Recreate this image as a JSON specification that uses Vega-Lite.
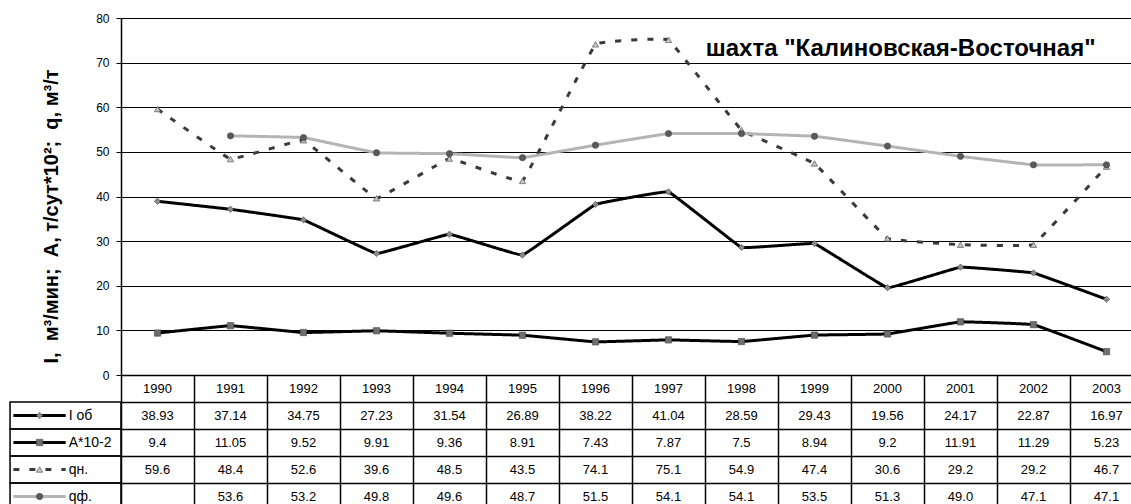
{
  "$schema": "https://vega.github.io/schema/vega-lite/v6.json",
  "padding": {"left": 9, "top": 12, "right": -12, "bottom": -6},
  "background": "white",
  "config": {"view": {"stroke": null}, "font": "Liberation Sans"},
  "spacing": 0,
  "bounds": "flush",
  "datasets": {
    "d": [
      {"year": 1990, "series": "I об", "value": 38.93, "txt": "38.93"},
      {"year": 1991, "series": "I об", "value": 37.14, "txt": "37.14"},
      {"year": 1992, "series": "I об", "value": 34.75, "txt": "34.75"},
      {"year": 1993, "series": "I об", "value": 27.23, "txt": "27.23"},
      {"year": 1994, "series": "I об", "value": 31.54, "txt": "31.54"},
      {"year": 1995, "series": "I об", "value": 26.89, "txt": "26.89"},
      {"year": 1996, "series": "I об", "value": 38.22, "txt": "38.22"},
      {"year": 1997, "series": "I об", "value": 41.04, "txt": "41.04"},
      {"year": 1998, "series": "I об", "value": 28.59, "txt": "28.59"},
      {"year": 1999, "series": "I об", "value": 29.43, "txt": "29.43"},
      {"year": 2000, "series": "I об", "value": 19.56, "txt": "19.56"},
      {"year": 2001, "series": "I об", "value": 24.17, "txt": "24.17"},
      {"year": 2002, "series": "I об", "value": 22.87, "txt": "22.87"},
      {"year": 2003, "series": "I об", "value": 16.97, "txt": "16.97"},
      {"year": 1990, "series": "А*10-2", "value": 9.4, "txt": "9.4"},
      {"year": 1991, "series": "А*10-2", "value": 11.05, "txt": "11.05"},
      {"year": 1992, "series": "А*10-2", "value": 9.52, "txt": "9.52"},
      {"year": 1993, "series": "А*10-2", "value": 9.91, "txt": "9.91"},
      {"year": 1994, "series": "А*10-2", "value": 9.36, "txt": "9.36"},
      {"year": 1995, "series": "А*10-2", "value": 8.91, "txt": "8.91"},
      {"year": 1996, "series": "А*10-2", "value": 7.43, "txt": "7.43"},
      {"year": 1997, "series": "А*10-2", "value": 7.87, "txt": "7.87"},
      {"year": 1998, "series": "А*10-2", "value": 7.5, "txt": "7.5"},
      {"year": 1999, "series": "А*10-2", "value": 8.94, "txt": "8.94"},
      {"year": 2000, "series": "А*10-2", "value": 9.2, "txt": "9.2"},
      {"year": 2001, "series": "А*10-2", "value": 11.91, "txt": "11.91"},
      {"year": 2002, "series": "А*10-2", "value": 11.29, "txt": "11.29"},
      {"year": 2003, "series": "А*10-2", "value": 5.23, "txt": "5.23"},
      {"year": 1990, "series": "qн.", "value": 59.6, "txt": "59.6"},
      {"year": 1991, "series": "qн.", "value": 48.4, "txt": "48.4"},
      {"year": 1992, "series": "qн.", "value": 52.6, "txt": "52.6"},
      {"year": 1993, "series": "qн.", "value": 39.6, "txt": "39.6"},
      {"year": 1994, "series": "qн.", "value": 48.5, "txt": "48.5"},
      {"year": 1995, "series": "qн.", "value": 43.5, "txt": "43.5"},
      {"year": 1996, "series": "qн.", "value": 74.1, "txt": "74.1"},
      {"year": 1997, "series": "qн.", "value": 75.1, "txt": "75.1"},
      {"year": 1998, "series": "qн.", "value": 54.9, "txt": "54.9"},
      {"year": 1999, "series": "qн.", "value": 47.4, "txt": "47.4"},
      {"year": 2000, "series": "qн.", "value": 30.6, "txt": "30.6"},
      {"year": 2001, "series": "qн.", "value": 29.2, "txt": "29.2"},
      {"year": 2002, "series": "qн.", "value": 29.2, "txt": "29.2"},
      {"year": 2003, "series": "qн.", "value": 46.7, "txt": "46.7"},
      {"year": 1991, "series": "qф.", "value": 53.6, "txt": "53.6"},
      {"year": 1992, "series": "qф.", "value": 53.2, "txt": "53.2"},
      {"year": 1993, "series": "qф.", "value": 49.8, "txt": "49.8"},
      {"year": 1994, "series": "qф.", "value": 49.6, "txt": "49.6"},
      {"year": 1995, "series": "qф.", "value": 48.7, "txt": "48.7"},
      {"year": 1996, "series": "qф.", "value": 51.5, "txt": "51.5"},
      {"year": 1997, "series": "qф.", "value": 54.1, "txt": "54.1"},
      {"year": 1998, "series": "qф.", "value": 54.1, "txt": "54.1"},
      {"year": 1999, "series": "qф.", "value": 53.5, "txt": "53.5"},
      {"year": 2000, "series": "qф.", "value": 51.3, "txt": "51.3"},
      {"year": 2001, "series": "qф.", "value": 49.0, "txt": "49.0"},
      {"year": 2002, "series": "qф.", "value": 47.1, "txt": "47.1"},
      {"year": 2003, "series": "qф.", "value": 47.1, "txt": "47.1"}
    ],
    "series": [
      {"series": "I об"},
      {"series": "А*10-2"},
      {"series": "qн."},
      {"series": "qф."}
    ]
  },
  "vconcat": [
    {
      "width": 1022,
      "height": 357,
      "layer": [
        {
          "data": {"name": "d"},
          "mark": {"type": "line", "interpolate": "cardinal", "tension": 0.85, "strokeWidth": 3},
          "encoding": {
            "x": {"field": "year", "type": "quantitative", "scale": {"domain": [1989.5, 2003.5], "nice": false, "zero": false}, "axis": null},
            "y": {"field": "value", "type": "quantitative", "scale": {"domain": [0, 80], "nice": false},
              "axis": {"values": [0, 10, 20, 30, 40, 50, 60, 70, 80], "grid": true, "gridColor": "#000", "gridOpacity": 1, "gridWidth": 1,
                "domainColor": "#000", "domainWidth": 1.5, "tickColor": "#000", "tickSize": 5, "tickWidth": 1,
                "labelFont": "Liberation Sans", "labelFontSize": 12, "labelColor": "#000", "labelPadding": 7,
                "title": "I,\u00a0\u00a0м³/мин;\u00a0\u00a0А,\u00a0т/сут*10²;\u00a0\u00a0q,\u00a0м³/т", "titleFont": "Liberation Sans", "titleFontSize": 20, "titleFontWeight": "bold",
                "titleColor": "#000", "titleX": -70, "titleY": 198, "titleAngle": -90, "titleAlign": "center", "titleBaseline": "middle"}},
            "stroke": {"field": "series", "type": "nominal", "scale": {"domain": ["I об", "А*10-2", "qн.", "qф."], "range": ["#000000", "#000000", "#3a3a3a", "#b4b4b4"]}, "legend": null},
            "strokeDash": {"field": "series", "type": "nominal", "scale": {"domain": ["I об", "А*10-2", "qн.", "qф."], "range": [[1, 0], [1, 0], [6, 10], [1, 0]]}, "legend": null}
          }
        },
        {
          "data": {"name": "d"},
          "mark": {"type": "point", "filled": true, "size": 40, "opacity": 1, "stroke": "#444", "strokeWidth": 0.6},
          "encoding": {
            "x": {"field": "year", "type": "quantitative"},
            "y": {"field": "value", "type": "quantitative"},
            "shape": {"field": "series", "type": "nominal", "scale": {"domain": ["I об", "А*10-2", "qн.", "qф."], "range": ["diamond", "square", "triangle-up", "circle"]}, "legend": null},
            "fill": {"field": "series", "type": "nominal", "scale": {"domain": ["I об", "А*10-2", "qн.", "qф."], "range": ["#8c8c8c", "#6e6e6e", "#c4c4c4", "#5a5a5a"]}, "legend": null}
          }
        },
        {
          "data": {"values": [{"label": "шахта \"Калиновская-Восточная\""}]},
          "mark": {"type": "text", "align": "right", "baseline": "middle", "fontSize": 24, "fontWeight": "bold", "font": "Liberation Sans", "color": "#000"},
          "encoding": {
            "x": {"datum": 2002.85, "type": "quantitative"},
            "y": {"datum": 73, "type": "quantitative"},
            "text": {"field": "label", "type": "nominal"}
          }
        }
      ]
    },
    {
      "width": 1022,
      "height": 135,
      "layer": [
        {
          "data": {"name": "d"},
          "mark": {"type": "text", "font": "Liberation Sans", "fontSize": 13, "color": "#000", "baseline": "middle"},
          "encoding": {
            "x": {"field": "year", "type": "quantitative", "scale": {"domain": [1989.5, 2003.5], "nice": false, "zero": false},
              "axis": {"values": [1989.5, 1990.5, 1991.5, 1992.5, 1993.5, 1994.5, 1995.5, 1996.5, 1997.5, 1998.5, 1999.5, 2000.5, 2001.5, 2002.5, 2003.5],
                "grid": true, "gridColor": "#000", "gridOpacity": 1, "gridWidth": 1.5, "labels": false, "ticks": false, "domain": false, "title": null}},
            "y": {"field": "series", "type": "nominal", "scale": {"domain": ["hdr", "I об", "А*10-2", "qн.", "qф."], "paddingInner": 0, "paddingOuter": 0},
              "axis": {"grid": true, "tickBand": "extent", "gridColor": "#000", "gridOpacity": 1, "gridWidth": 1.5, "labels": false, "ticks": false, "domain": false, "title": null}},
            "text": {"field": "txt", "type": "nominal"}
          }
        },
        {
          "data": {"name": "d"},
          "transform": [{"filter": "datum.series === 'I об'"}],
          "mark": {"type": "text", "font": "Liberation Sans", "fontSize": 13, "color": "#000", "baseline": "middle"},
          "encoding": {
            "x": {"field": "year", "type": "quantitative"},
            "y": {"datum": "hdr", "type": "nominal"},
            "text": {"field": "year", "type": "nominal"}
          }
        },
        {
          "data": {"name": "series"},
          "mark": {"type": "rect", "fill": "white", "fillOpacity": 0, "stroke": "#000", "strokeWidth": 1.5},
          "encoding": {
            "x": {"datum": 1987.98, "type": "quantitative"},
            "x2": {"datum": 1989.5},
            "y": {"field": "series", "type": "nominal"}
          }
        },
        {
          "data": {"name": "series"},
          "mark": {"type": "rule", "strokeWidth": 3},
          "encoding": {
            "x": {"datum": 1988.026, "type": "quantitative"},
            "x2": {"datum": 1988.742},
            "y": {"field": "series", "type": "nominal"},
            "stroke": {"field": "series", "type": "nominal", "scale": {"domain": ["I об", "А*10-2", "qн.", "qф."], "range": ["#000000", "#000000", "#3a3a3a", "#b4b4b4"]}, "legend": null},
            "strokeDash": {"field": "series", "type": "nominal", "scale": {"domain": ["I об", "А*10-2", "qн.", "qф."], "range": [[1, 0], [1, 0], [6, 10], [1, 0]]}, "legend": null}
          }
        },
        {
          "data": {"name": "series"},
          "mark": {"type": "point", "filled": true, "size": 40, "opacity": 1, "stroke": "#444", "strokeWidth": 0.6},
          "encoding": {
            "x": {"datum": 1988.385, "type": "quantitative"},
            "y": {"field": "series", "type": "nominal"},
            "shape": {"field": "series", "type": "nominal", "scale": {"domain": ["I об", "А*10-2", "qн.", "qф."], "range": ["diamond", "square", "triangle-up", "circle"]}, "legend": null},
            "fill": {"field": "series", "type": "nominal", "scale": {"domain": ["I об", "А*10-2", "qн.", "qф."], "range": ["#8c8c8c", "#6e6e6e", "#c4c4c4", "#5a5a5a"]}, "legend": null}
          }
        },
        {
          "data": {"name": "series"},
          "mark": {"type": "text", "align": "left", "baseline": "middle", "font": "Liberation Sans", "fontSize": 14, "color": "#000"},
          "encoding": {
            "x": {"datum": 1988.784, "type": "quantitative"},
            "y": {"field": "series", "type": "nominal"},
            "text": {"field": "series", "type": "nominal"}
          }
        }
      ]
    }
  ]
}
